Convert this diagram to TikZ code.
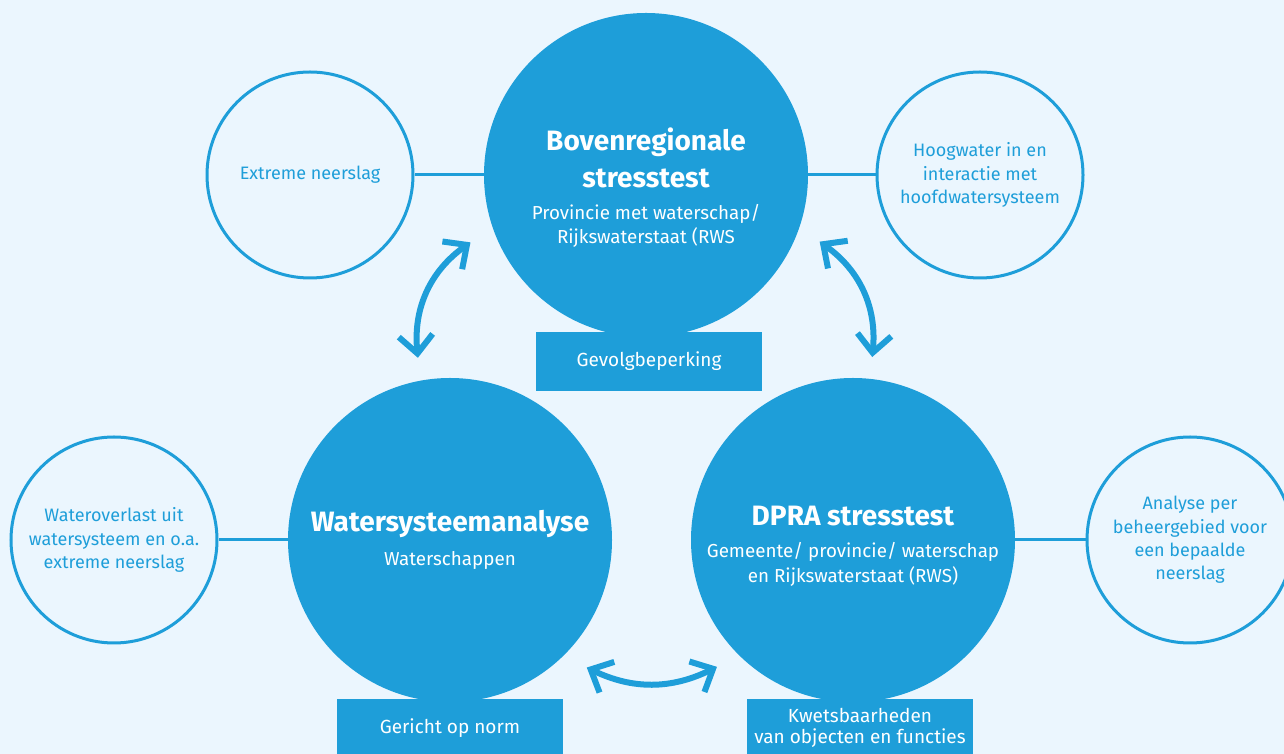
\documentclass[tikz,border=0pt]{standalone}
\usepackage{fontspec}
\setmainfont{Fira Sans}
\usetikzlibrary{arrows.meta,positioning}
\definecolor{rwsblue}{RGB}{30,158,217}
\definecolor{rwsback}{RGB}{235,246,254}
\newcommand\headfont{\bfseries\fontsize{14}{17.5}\selectfont}
\newcommand\subfont{\mdseries\fontsize{9.4}{12}\selectfont}
\begin{document}
\begin{tikzpicture}[x=0.5pt,y=0.5pt,
    big/.style={circle,fill=rwsblue,text=white,minimum size=162pt,inner sep=0pt,align=center},
    small/.style={circle,draw=rwsblue,line width=1.5pt,fill=rwsback,text=rwsblue,minimum size=103pt,
      inner sep=0pt,align=center,font=\fontsize{9}{11.7}\selectfont},
    tag/.style={rectangle,fill=rwsblue,text=white,minimum width=113pt,minimum height=29.5pt,
      inner sep=2pt,align=center,font=\fontsize{9.5}{10.5}\selectfont},
    link/.style={draw=rwsblue,line width=1.5pt},
    swap/.style={draw=rwsblue,line width=3pt,line join=miter,
      {Straight Barb[length=9pt,width=17pt]}-{Straight Barb[length=9pt,width=17pt]}}]
    \fill[rwsback] (0,0) rectangle (1284,754);
    \useasboundingbox (0,0) rectangle (1284,754);
    \clip (0,0) rectangle (1284,754);

    \node[big] (boven) at (646,579) {\headfont\rule{0pt}{24pt}Bovenregionale\\[5.5pt]\headfont stresstest\\[4pt]
      \subfont Provincie met waterschap/\\\subfont Rijkswaterstaat (RWS};
    \node[big] (wsa) at (450,214) {\headfont Watersysteemanalyse\\[5pt]\subfont Waterschappen};
    \node[big] (dpra) at (853,214) {\headfont\rule{0pt}{16pt}DPRA stresstest\\[4pt]
      \subfont Gemeente/ provincie/ waterschap\\[0.5pt]\subfont en Rijkswaterstaat (RWS)};

    \node[small] (neerslag) at (310,579) {Extreme neerslag};
    \node[small] (hoogwater) at (980,579) {Hoogwater in en\\interactie met\\hoofdwatersysteem};
    \node[small] (overlast) at (114,214) {Wateroverlast uit\\watersysteem en o.a.\\extreme neerslag};
    \node[small] (analyse) at (1190,214) {Analyse per\\beheergebied voor\\een bepaalde\\neerslag};

    \node[tag,below=-3pt of boven,xshift=1.5pt] (gevolg) {Gevolgbeperking};
    \node[tag,below=-2pt of wsa] (norm) {Gericht op norm};
    \node[tag,below=-2pt of dpra,xshift=3.5pt] (kwets) {Kwetsbaarheden\\van objecten en functies};

    \draw[link] (neerslag) -- (boven);
    \draw[link] (boven) -- (hoogwater);
    \draw[link] (overlast) -- (wsa);
    \draw[link] (dpra) -- (analyse);

    \draw[swap] ([shift={(100:185)}]wsa.center) to[bend left=30] ([shift={(201:188)}]boven.center);
    \draw[swap] ([shift={(84:184)}]dpra.center) to[bend right=30] ([shift={(339:186)}]boven.center);
    \draw[swap] ([shift={(-43:187)}]wsa.center) to[bend right=26] ([shift={(223:186)}]dpra.center);
\end{tikzpicture}
\end{document}
